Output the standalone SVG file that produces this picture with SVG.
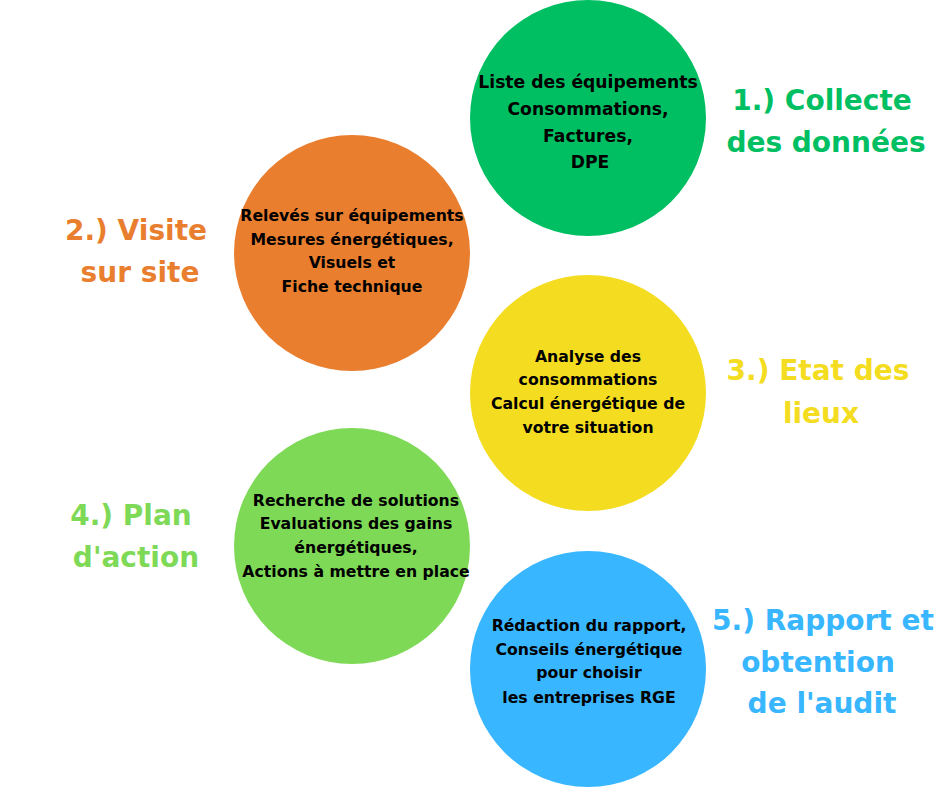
<svg xmlns="http://www.w3.org/2000/svg" width="940" height="788" viewBox="0 0 940 788">
<style>
.body{font-family:"DejaVu Sans","Liberation Sans",sans-serif;font-weight:700;font-size:15.7px;fill:#000;text-anchor:middle}
.big{font-size:17.2px}
.lbl{font-family:"DejaVu Sans","Liberation Sans",sans-serif;font-weight:700;font-size:28px;text-anchor:middle}
</style>
<rect width="940" height="788" fill="#fff"/>
<g id="step1">
<circle cx="588" cy="118" r="118" fill="#00BF63"/>
<text class="body big"><tspan x="588" y="88">Liste des équipements</tspan><tspan x="588" y="115">Consommations,</tspan><tspan x="588" y="142">Factures,</tspan><tspan x="590" y="168">DPE</tspan></text>
<text class="lbl" fill="#00BF63"><tspan x="822" y="110">1.) Collecte</tspan><tspan x="826" y="152">des données</tspan></text>
</g>
<g id="step2">
<circle cx="352" cy="253" r="118" fill="#E97E2F"/>
<text class="body"><tspan x="352" y="221">Relevés sur équipements</tspan><tspan x="352" y="245">Mesures énergétiques,</tspan><tspan x="352" y="268">Visuels et</tspan><tspan x="352" y="292">Fiche technique</tspan></text>
<text class="lbl" fill="#E97E2F"><tspan x="136" y="240">2.) Visite</tspan><tspan x="140" y="282">sur site</tspan></text>
</g>
<g id="step3">
<circle cx="588" cy="393" r="118" fill="#F4DC20"/>
<text class="body"><tspan x="588" y="362">Analyse des</tspan><tspan x="588" y="385">consommations</tspan><tspan x="588" y="409">Calcul énergétique de</tspan><tspan x="588" y="433">votre situation</tspan></text>
<text class="lbl" fill="#F4DC20"><tspan x="818" y="380">3.) Etat des</tspan><tspan x="821" y="423">lieux</tspan></text>
</g>
<g id="step4">
<circle cx="352" cy="546" r="118" fill="#7ED957"/>
<text class="body"><tspan x="356" y="506">Recherche de solutions</tspan><tspan x="356" y="529">Evaluations des gains</tspan><tspan x="356" y="553">énergétiques,</tspan><tspan x="356" y="577">Actions à mettre en place</tspan></text>
<text class="lbl" fill="#7ED957"><tspan x="131" y="525">4.) Plan</tspan><tspan x="136" y="567">d'action</tspan></text>
</g>
<g id="step5">
<circle cx="588" cy="669" r="118" fill="#38B6FF"/>
<text class="body"><tspan x="589" y="631">Rédaction du rapport,</tspan><tspan x="589" y="655">Conseils énergétique</tspan><tspan x="589" y="678">pour choisir</tspan><tspan x="589" y="703">les entreprises RGE</tspan></text>
<text class="lbl" fill="#38B6FF"><tspan x="823" y="630">5.) Rapport et</tspan><tspan x="818" y="672">obtention</tspan><tspan x="822" y="713">de l'audit</tspan></text>
</g>
<g id="connectors"/>
</svg>
